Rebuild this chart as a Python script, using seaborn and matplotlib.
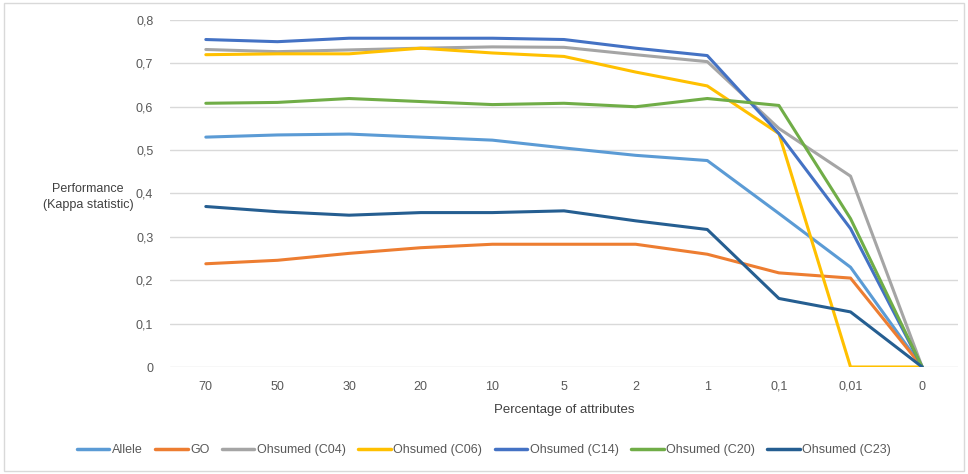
import matplotlib.pyplot as plt
import numpy as np
import pandas as pd
import seaborn as sns
from matplotlib.patches import Rectangle

# data
pct_labels = ['70', '50', '30', '20', '10', '5', '2', '1', '0,1', '0,01', '0']

allele = [0.530, 0.535, 0.537, 0.530, 0.523, 0.505, 0.488, 0.476, 0.354, 0.230, 0.0]
go = [0.238, 0.246, 0.262, 0.275, 0.283, 0.283, 0.283, 0.260, 0.217, 0.205, 0.0]
c04 = [0.732, 0.727, 0.731, 0.735, 0.738, 0.737, 0.720, 0.704, 0.550, 0.440, 0.0]
c06 = [0.720, 0.722, 0.722, 0.735, 0.724, 0.716, 0.680, 0.648, 0.538, 0.0, 0.0]
c14 = [0.755, 0.750, 0.758, 0.758, 0.758, 0.755, 0.735, 0.718, 0.538, 0.319, 0.0]
c20 = [0.608, 0.610, 0.619, 0.612, 0.605, 0.608, 0.600, 0.619, 0.603, 0.342, 0.0]
c23 = [0.370, 0.358, 0.350, 0.356, 0.356, 0.360, 0.337, 0.317, 0.158, 0.127, 0.0]

series = {
    'Allele': allele,
    'GO': go,
    'Ohsumed (C04)': c04,
    'Ohsumed (C06)': c06,
    'Ohsumed (C14)': c14,
    'Ohsumed (C20)': c20,
    'Ohsumed (C23)': c23,
}
colors = ['#5B9BD5', '#ED7D31', '#A5A5A5', '#FFC000', '#4472C4', '#70AD47', '#255E91']

rows = []
for name, vals in series.items():
    for i, v in enumerate(vals):
        rows.append({'pos': i, 'value': v, 'dataset': name})
df = pd.DataFrame(rows)

sns.set_style('white')
plt.rcParams['font.family'] = ['Liberation Sans', 'DejaVu Sans']

fig = plt.figure(figsize=(9.68, 4.74), dpi=100)
ax = fig.add_axes([170 / 968, 1 - 367 / 474, 788 / 968, 347 / 474])

sns.lineplot(data=df, x='pos', y='value', hue='dataset', palette=colors,
             linewidth=2.2, sort=False, ax=ax)

txt = '#595959'
ax.set_xlim(-0.5, len(pct_labels) - 0.5)
ax.set_ylim(0, 0.8)
ax.set_xticks(np.arange(len(pct_labels)))
ax.set_xticklabels(pct_labels)
yt = np.round(np.arange(0, 0.81, 0.1), 1)
ax.set_yticks(yt)
ax.set_yticklabels(['0'] + [f'{v:.1f}'.replace('.', ',') for v in yt[1:]])
ax.tick_params(axis='both', length=0, labelsize=9, colors=txt)
ax.tick_params(axis='y', pad=12)
ax.tick_params(axis='x', pad=10)
ax.grid(axis='y', color='#D9D9D9', linewidth=1)
ax.grid(axis='x', visible=False)
ax.set_axisbelow(True)
for s in ax.spines.values():
    s.set_visible(False)

ax.set_xlabel('Percentage of attributes', fontsize=9.5, color='#404040', labelpad=8)
ax.set_ylabel('')
fig.text(88 / 968, 1 - 197 / 474, 'Performance\n(Kappa statistic)', ha='center',
         va='center', fontsize=9, color='#404040', linespacing=1.4)

ax.legend_.remove()
handles = [plt.Line2D([0], [0], color=c, linewidth=2.5) for c in colors]
fig.legend(handles, list(series.keys()), loc='center', bbox_to_anchor=(0.5, 1 - 450 / 474),
           ncol=7, frameon=False, fontsize=9, handlelength=2.6, handletextpad=0.2,
           columnspacing=1.0, labelcolor=txt)

fig.patches.append(Rectangle((4 / 968, 3 / 474), 960 / 968, 468 / 474, transform=fig.transFigure,
                             fill=False, edgecolor='#D9D9D9', linewidth=1))

fig.savefig('out.png', dpi=100)
